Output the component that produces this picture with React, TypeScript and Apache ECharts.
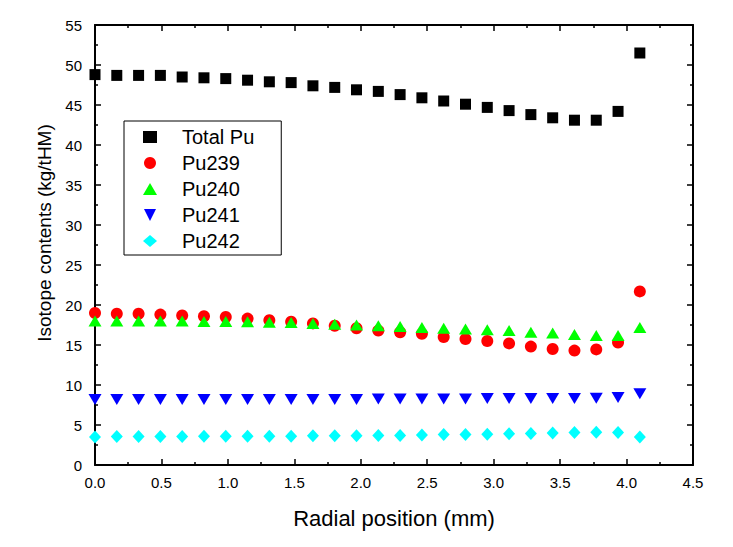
import React, { useEffect, useRef } from "react";
import * as echarts from "echarts";

const radialPosition = [0.0, 0.164, 0.328, 0.492, 0.656, 0.82, 0.984, 1.148, 1.312, 1.476, 1.64, 1.804, 1.968, 2.132, 2.296, 2.46, 2.624, 2.788, 2.952, 3.116, 3.28, 3.444, 3.608, 3.772, 3.936, 4.1];
const totalPu = [48.8, 48.7, 48.7, 48.7, 48.5, 48.4, 48.3, 48.1, 47.9, 47.8, 47.4, 47.2, 46.9, 46.7, 46.3, 45.9, 45.5, 45.1, 44.7, 44.3, 43.8, 43.4, 43.1, 43.1, 44.2, 51.5];
const pu239 = [19.0, 18.9, 18.9, 18.8, 18.7, 18.6, 18.5, 18.3, 18.1, 17.9, 17.7, 17.4, 17.1, 16.8, 16.6, 16.4, 16.0, 15.75, 15.5, 15.2, 14.8, 14.5, 14.3, 14.45, 15.3, 21.7];
const pu240 = [18.0, 18.0, 18.0, 18.0, 18.0, 17.95, 17.95, 17.9, 17.85, 17.8, 17.7, 17.6, 17.5, 17.4, 17.3, 17.2, 17.1, 17.0, 16.9, 16.8, 16.6, 16.5, 16.3, 16.2, 16.2, 17.2];
const pu241 = [8.2, 8.2, 8.2, 8.2, 8.2, 8.2, 8.2, 8.2, 8.2, 8.2, 8.2, 8.2, 8.2, 8.25, 8.25, 8.25, 8.25, 8.25, 8.3, 8.3, 8.3, 8.3, 8.3, 8.35, 8.45, 8.9];
const pu242 = [3.5, 3.55, 3.55, 3.55, 3.55, 3.6, 3.6, 3.6, 3.6, 3.6, 3.65, 3.65, 3.65, 3.7, 3.7, 3.75, 3.8, 3.8, 3.85, 3.9, 3.95, 4.0, 4.05, 4.1, 4.05, 3.5];

const seriesNames = ["Total Pu", "Pu239", "Pu240", "Pu241", "Pu242"];
const seriesColors = ["#000000", "#ff0000", "#00ff00", "#0000ff", "#00ffff"];
const seriesSymbols = ["rect", "circle", "triangle", "path://M0,0 L10,0 L5,10 Z", "diamond"];
const seriesSizes = [[11, 11], [12, 12], [13, 11], [13, 11], [12, 13]];
const seriesValues = [totalPu, pu239, pu240, pu241, pu242];

const FONT = "Liberation Sans, Arial, sans-serif";

const mkLine = () => ({ show: true, onZero: false, lineStyle: { color: "#000", width: 2 } });
const mkTick = () => ({ show: true, inside: false, length: -6, lineStyle: { color: "#000", width: 1.5 } });
const mkMinor = () => ({ show: true, splitNumber: 2, length: -3, lineStyle: { color: "#000", width: 1.5 } });

export default function App() {
  const ref = useRef<HTMLDivElement>(null);
  useEffect(() => {
    if (!ref.current) return;
    const chart = echarts.init(ref.current, null, { renderer: "svg" });
    chart.setOption({
      animation: false,
      backgroundColor: "#fff",
      grid: { left: 95, right: 40, top: 25, bottom: 82, containLabel: false },
      legend: {
        orient: "vertical",
        left: 124,
        top: 121,
        backgroundColor: "#fff",
        borderColor: "#000",
        borderWidth: 1,
        borderRadius: 0,
        padding: [6, 27, 4, 19],
        itemWidth: 14,
        itemHeight: 12,
        itemGap: 6,
        textStyle: { fontFamily: FONT, fontSize: 20, lineHeight: 20, color: "#000", padding: [0, 0, 0, 20] },
        data: seriesNames.map((n, i) => ({ name: n, icon: seriesSymbols[i] })),
      },
      xAxis: [
        {
          type: "value",
          position: "bottom",
          min: 0,
          max: 4.5,
          interval: 0.5,
          name: "Radial position (mm)",
          nameLocation: "middle",
          nameGap: 42,
          nameTextStyle: { fontFamily: FONT, fontSize: 22, color: "#000" },
          axisLine: mkLine(),
          axisTick: mkTick(),
          minorTick: mkMinor(),
          splitLine: { show: false },
          minorSplitLine: { show: false },
          axisLabel: { fontFamily: FONT, fontSize: 15, color: "#000", margin: 10, formatter: (v: number) => v.toFixed(1) },
        },
        {
          type: "value",
          position: "top",
          min: 0,
          max: 4.5,
          interval: 0.5,
          axisLine: mkLine(),
          axisTick: mkTick(),
          minorTick: mkMinor(),
          splitLine: { show: false },
          axisLabel: { show: false },
        },
      ],
      yAxis: [
        {
          type: "value",
          position: "left",
          min: 0,
          max: 55,
          interval: 5,
          name: "Isotope contents (kg/tHM)",
          nameLocation: "middle",
          nameGap: 37,
          nameTextStyle: { fontFamily: FONT, fontSize: 19, color: "#000", padding: [0, 0, 0, 24] },
          axisLine: mkLine(),
          axisTick: mkTick(),
          minorTick: mkMinor(),
          splitLine: { show: false },
          axisLabel: { fontFamily: FONT, fontSize: 15, color: "#000", margin: 13 },
        },
        {
          type: "value",
          position: "right",
          min: 0,
          max: 55,
          interval: 5,
          axisLine: mkLine(),
          axisTick: mkTick(),
          minorTick: mkMinor(),
          splitLine: { show: false },
          axisLabel: { show: false },
        },
      ],
      series: seriesNames.map((name, i) => ({
        name,
        type: "scatter",
        xAxisIndex: 0,
        yAxisIndex: 0,
        symbol: seriesSymbols[i],
        symbolSize: seriesSizes[i],
        itemStyle: { color: seriesColors[i], opacity: 1 },
        emphasis: { disabled: true },
        data: radialPosition.map((x, j) => [x, seriesValues[i][j]]),
        z: 2 + i,
      })),
    });
    return () => chart.dispose();
  }, []);
  return <div ref={ref} style={{ width: 733, height: 547, position: "absolute", left: 0, top: 0 }} />;
}
